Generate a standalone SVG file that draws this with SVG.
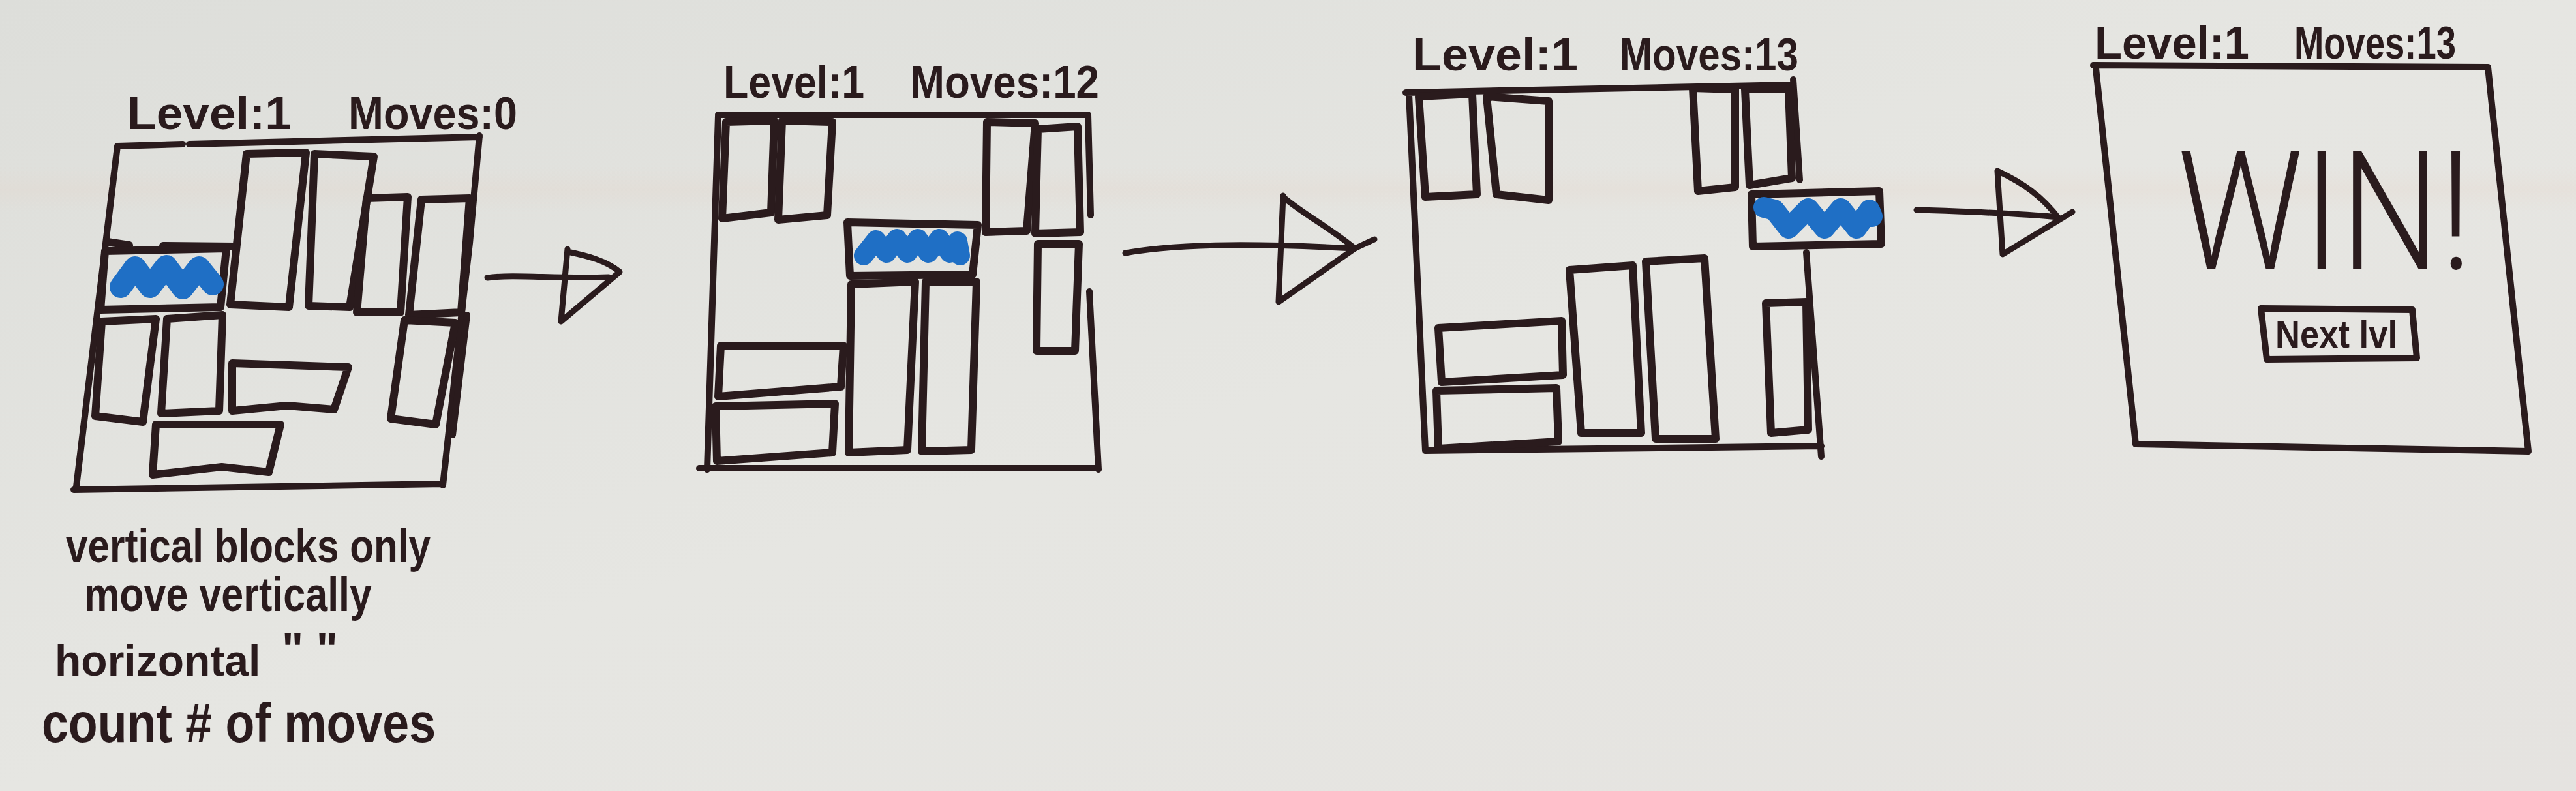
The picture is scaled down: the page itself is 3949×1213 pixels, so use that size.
<svg xmlns="http://www.w3.org/2000/svg" width="3949" height="1213" viewBox="0 0 3949 1213">
<defs>
<linearGradient id="bg" x1="0" y1="0" x2="1" y2="1">
<stop offset="0" stop-color="#dddeda"/>
<stop offset="0.5" stop-color="#e6e6e2"/>
<stop offset="1" stop-color="#e5e3e0"/>
</linearGradient>
<linearGradient id="streak" x1="0" y1="0" x2="0" y2="1">
<stop offset="0" stop-color="#e6c9b8" stop-opacity="0"/>
<stop offset="0.5" stop-color="#e6c9b8" stop-opacity="0.15"/>
<stop offset="1" stop-color="#e6c9b8" stop-opacity="0"/>
</linearGradient>
<style>
.ink{fill:none;stroke:#2a1b1d;stroke-linecap:round;stroke-linejoin:round}
.blk{stroke-width:12}
.frm{stroke-width:10}
.arr{stroke-width:9}
.blue{fill:none;stroke:#1f6fc5;stroke-linecap:round;stroke-linejoin:round}
.ttl{font-family:"Liberation Sans",Arial,sans-serif;font-weight:bold;font-size:70px;fill:#2a1b1d}
.note{font-family:"Liberation Sans",Arial,sans-serif;font-weight:bold;fill:#2a1b1d}
</style>
</defs>
<rect x="0" y="0" width="3949" height="1213" fill="url(#bg)"/>
<rect x="0" y="255" width="3949" height="70" fill="url(#streak)"/>

<g id="panel1">
<text class="ttl" x="195" y="198" textLength="252" lengthAdjust="spacingAndGlyphs">Level:1</text>
<text class="ttl" x="534" y="198" textLength="259" lengthAdjust="spacingAndGlyphs">Moves:0</text>
<path class="ink frm" d="M180,224 L280,221 M290,221 L735,210 M735,208 L720,373 L707,487 L679,744 M113,751 L679,742 M180,224 L117,746"/>
<path class="ink frm" d="M716,483 L694,667"/>
<path class="ink blk" d="M378,236 L469,234 L443,471 L353,467 Z"/>
<path class="ink blk" d="M482,236 L573,240 L536,471 L473,469 Z"/>
<path class="ink blk" d="M562,304 L625,302 L614,479 L547,479 Z"/>
<path class="ink blk" d="M646,306 L720,304 L707,479 L627,483 Z"/>
<path class="ink blk" d="M165,371 L198,376 M250,377 L360,378"/>
<path class="ink blk" d="M161,385 L347,381 L338,471 L154,475 Z"/>
<polyline class="blue" stroke-width="34" points="185,440 207,410 230,440 255,408 280,442 305,410 326,436"/>
<path class="ink blk" d="M156,493 L239,489 L219,647 L146,638 Z"/>
<path class="ink blk" d="M256,489 L341,483 L336,630 L247,634 Z"/>
<path class="ink blk" d="M356,557 L534,563 L512,628 L440,622 L356,630 Z"/>
<path class="ink blk" d="M239,651 L430,651 L412,724 L340,716 L234,728 Z"/>
<path class="ink blk" d="M620,491 L698,495 L668,651 L599,642 Z"/>
</g>

<g id="panel2">
<text class="ttl" x="1109" y="150" textLength="216" lengthAdjust="spacingAndGlyphs">Level:1</text>
<text class="ttl" x="1395" y="150" textLength="290" lengthAdjust="spacingAndGlyphs">Moves:12</text>
<path class="ink frm" d="M1101,176 L1668,176 L1672,330 M1670,447 L1684,720 M1072,718 L1680,718 M1101,178 L1084,720"/>
<path class="ink blk" d="M1113,187 L1187,185 L1182,326 L1107,335 Z"/>
<path class="ink blk" d="M1199,185 L1276,187 L1268,330 L1193,337 Z"/>
<path class="ink blk" d="M1513,187 L1587,189 L1574,354 L1511,356 Z"/>
<path class="ink blk" d="M1591,198 L1652,194 L1656,356 L1587,358 Z"/>
<path class="ink blk" d="M1591,374 L1654,374 L1648,538 L1589,538 Z"/>
<path class="ink blk" d="M1299,341 L1499,345 L1491,421 L1303,423 Z"/>
<polyline class="blue" stroke-width="30" points="1324,392 1343,368 1359,388 1375,366 1391,388 1407,366 1423,388 1440,366 1456,388 1468,370 1472,392"/>
<path class="ink blk" d="M1305,436 L1403,432 L1391,690 L1301,694 Z"/>
<path class="ink blk" d="M1419,432 L1497,432 L1489,690 L1413,692 Z"/>
<path class="ink blk" d="M1105,530 L1293,530 L1289,593 L1101,608 Z"/>
<path class="ink blk" d="M1097,623 L1280,619 L1276,694 L1099,707 Z"/>
</g>

<g id="panel3">
<text class="ttl" x="2165" y="108" textLength="254" lengthAdjust="spacingAndGlyphs">Level:1</text>
<text class="ttl" x="2483" y="108" textLength="274" lengthAdjust="spacingAndGlyphs">Moves:13</text>
<path class="ink frm" d="M2155,142 L2749,130 M2749,122 L2759,276 M2769,387 L2792,700 M2185,691 L2792,684 M2160,144 L2185,691"/>
<path class="ink blk" d="M2175,148 L2257,144 L2264,298 L2185,302 Z"/>
<path class="ink blk" d="M2279,148 L2374,155 L2374,307 L2294,298 Z"/>
<path class="ink blk" d="M2595,135 L2660,137 L2660,287 L2603,293 Z"/>
<path class="ink blk" d="M2675,137 L2742,137 L2747,273 L2682,284 Z"/>
<path class="ink blk" d="M2685,298 L2881,293 L2884,374 L2687,378 Z"/>
<polyline class="blue" stroke-width="32" points="2704,318 2720,322 2742,350 2772,320 2797,350 2822,320 2846,350 2866,322 2870,332"/>
<path class="ink blk" d="M2406,414 L2503,407 L2516,664 L2424,664 Z"/>
<path class="ink blk" d="M2523,401 L2613,396 L2630,673 L2538,673 Z"/>
<path class="ink blk" d="M2707,465 L2769,463 L2772,659 L2715,664 Z"/>
<path class="ink blk" d="M2205,503 L2394,492 L2396,575 L2210,586 Z"/>
<path class="ink blk" d="M2202,599 L2386,595 L2389,677 L2205,688 Z"/>
</g>

<g id="panel4">
<text class="ttl" x="3211" y="90" textLength="237" lengthAdjust="spacingAndGlyphs">Level:1</text>
<text class="ttl" x="3517" y="90" textLength="248" lengthAdjust="spacingAndGlyphs">Moves:13</text>
<path class="ink frm" d="M3209,100 L3814,103 L3845,400 L3876,692 L3274,681 L3213,105"/>
<text x="3338" y="413" textLength="451" lengthAdjust="spacingAndGlyphs" font-family="Roboto,'Liberation Sans',sans-serif" font-weight="300" font-size="255" fill="#2a1b1d">WIN!</text>
<g id="nextlvl">
<path class="ink frm" d="M3466,473 L3698,475 L3705,549 L3475,551 Z"/>
<text class="note" x="3488" y="533" font-size="60" textLength="187" lengthAdjust="spacingAndGlyphs">Next lvl</text>
</g>
</g>

<g id="notes">
<text class="note" x="101" y="862" font-size="72" textLength="559" lengthAdjust="spacingAndGlyphs">vertical blocks only</text>
<text class="note" x="129" y="937" font-size="74" textLength="441" lengthAdjust="spacingAndGlyphs">move vertically</text>
<text class="note" x="84" y="1036" font-size="66">horizontal</text>
<text class="note" x="432" y="1020" font-size="70">" "</text>
<text class="note" x="64" y="1138" font-size="86" textLength="604" lengthAdjust="spacingAndGlyphs">count # of moves</text>
</g>

<g id="connectors">
<g id="arrow1">
<path class="ink arr" d="M747,426 C790,420 850,428 933,425"/>
<path class="ink arr" d="M870,382 L860,493 L950,417 C930,400 900,392 870,386"/>
</g>
<g id="arrow2">
<path class="ink arr" d="M1725,388 C1800,375 1900,372 2077,381 L2107,367"/>
<path class="ink arr" d="M1967,300 L1960,463 L2077,381 C2040,350 2000,330 1967,302"/>
</g>
<g id="arrow3">
<path class="ink arr" d="M2938,322 C3000,324 3080,326 3155,333"/>
<path class="ink arr" d="M3062,262 L3070,390 L3177,325 M3062,262 C3100,280 3130,300 3157,336"/>
</g>
</g>
</svg>
